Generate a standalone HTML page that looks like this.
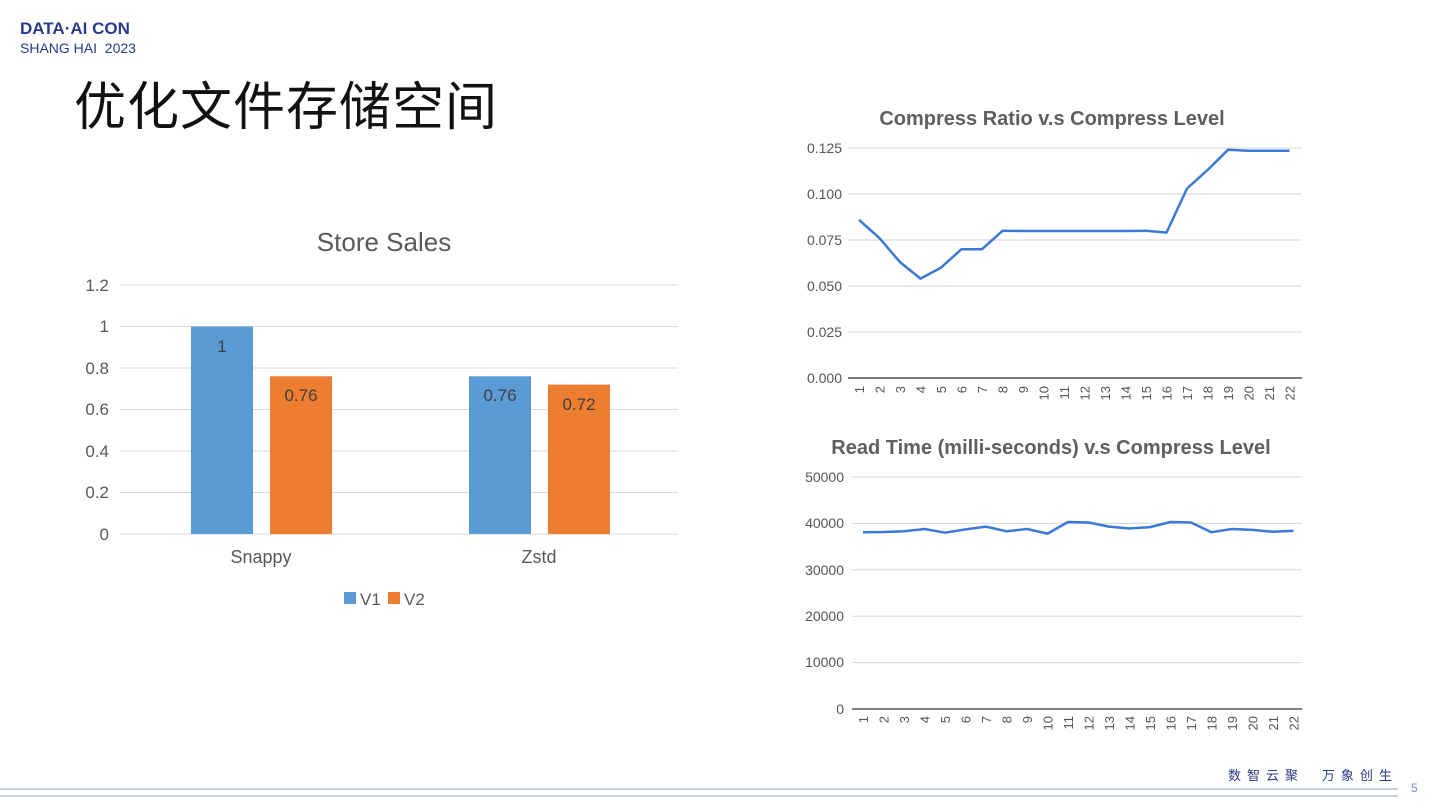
<!DOCTYPE html>
<html><head><meta charset="utf-8"><style>
body{margin:0;width:1440px;height:810px;background:#fff;overflow:hidden;position:relative;font-family:"Liberation Sans","Noto Sans CJK SC",sans-serif}
.abs{position:absolute}
</style></head><body>
<div class="abs" style="left:20px;top:19px;font-size:17px;font-weight:bold;color:#2a3a8c;letter-spacing:0px">DATA·AI CON</div>
<div class="abs" style="left:20px;top:40px;font-size:14px;color:#2a3a8c">SHANG HAI&nbsp; 2023</div>
<div class="abs" style="left:74px;top:70px;font-size:52px;color:#111;font-family:'Noto Sans CJK SC',sans-serif;line-height:66px;letter-spacing:1px">优化文件存储空间</div>
<div class="abs" style="left:1228px;top:765px;font-size:13px;color:#2a3a8c;letter-spacing:6px;font-family:'Noto Sans CJK SC',sans-serif">数智云聚 &nbsp;万象创生</div>
<div class="abs" style="left:1411px;top:781px;font-size:12px;color:#7a8fc0">5</div>
<svg class="abs" style="left:0;top:0" width="1440" height="810">
<line x1="0" y1="789" x2="1398" y2="789" stroke="#8fa3b8" stroke-width="1"/>
<line x1="0" y1="796" x2="1398" y2="796" stroke="#8fa3b8" stroke-width="1"/>
<g font-family="Liberation Sans, sans-serif" fill="#595959">
<text x="384" y="251" font-size="26" text-anchor="middle">Store Sales</text>
<g stroke="#d9d9d9" stroke-width="1">
<line x1="120" y1="285" x2="678" y2="285"/><line x1="120" y1="326.5" x2="678" y2="326.5"/>
<line x1="120" y1="368" x2="678" y2="368"/><line x1="120" y1="409.5" x2="678" y2="409.5"/>
<line x1="120" y1="451" x2="678" y2="451"/><line x1="120" y1="492.5" x2="678" y2="492.5"/>
<line x1="120" y1="534" x2="678" y2="534"/></g>
<g font-size="17" text-anchor="end">
<text x="109" y="291">1.2</text><text x="109" y="332">1</text><text x="109" y="374">0.8</text>
<text x="109" y="415">0.6</text><text x="109" y="457">0.4</text><text x="109" y="498">0.2</text><text x="109" y="540">0</text></g>
<rect x="191" y="326.5" width="62" height="207.5" fill="#5b9bd5"/>
<rect x="270" y="376.3" width="62" height="157.7" fill="#ed7d31"/>
<rect x="469" y="376.3" width="62" height="157.7" fill="#5b9bd5"/>
<rect x="548" y="384.6" width="62" height="149.4" fill="#ed7d31"/>
<g font-size="17" text-anchor="middle" fill="#404040">
<text x="222" y="352">1</text><text x="301" y="401">0.76</text><text x="500" y="401">0.76</text><text x="579" y="410">0.72</text></g>
<g font-size="18" text-anchor="middle"><text x="261" y="563">Snappy</text><text x="539" y="563">Zstd</text></g>
<rect x="344" y="592" width="12" height="12" fill="#5b9bd5"/><text x="360" y="605" font-size="17">V1</text>
<rect x="388" y="592" width="12" height="12" fill="#ed7d31"/><text x="404" y="605" font-size="17">V2</text>
</g>
<g font-family="Liberation Sans, sans-serif">
<text x="1052" y="125" font-size="20" font-weight="bold" fill="#5f5f5f" text-anchor="middle">Compress Ratio v.s Compress Level</text>
<g stroke="#d6d6d6"><line x1="848" y1="148" x2="1302" y2="148"/><line x1="848" y1="194" x2="1302" y2="194"/><line x1="848" y1="240" x2="1302" y2="240"/><line x1="848" y1="286" x2="1302" y2="286"/><line x1="848" y1="332" x2="1302" y2="332"/></g>
<line x1="848" y1="378" x2="1302" y2="378" stroke="#333" stroke-width="1.3"/>
<g font-size="14" fill="#555" text-anchor="end"><text x="842" y="153">0.125</text><text x="842" y="199">0.100</text><text x="842" y="245">0.075</text><text x="842" y="291">0.050</text><text x="842" y="337">0.025</text><text x="842" y="383">0.000</text></g>
<polyline fill="none" stroke="#3c78d8" stroke-width="2.5" stroke-linejoin="round" points="859,219.8 879.5,238.2 900,262.1 920.5,278.6 941,267.6 961.5,249.2 982,249.2 1002.5,230.8 1023,231 1043.5,231 1064,231 1084.5,231 1105,231 1125.5,231 1146,230.8 1166.5,232.6 1187,188.5 1207.5,170.1 1228,149.8 1248.5,150.8 1269,150.8 1289.5,150.8"/>
<text x="1051" y="454" font-size="20" font-weight="bold" fill="#5f5f5f" text-anchor="middle">Read Time (milli-seconds) v.s Compress Level</text>
<g stroke="#d6d6d6"><line x1="852" y1="477" x2="1302" y2="477"/><line x1="852" y1="523.4" x2="1302" y2="523.4"/><line x1="852" y1="569.8" x2="1302" y2="569.8"/><line x1="852" y1="616.2" x2="1302" y2="616.2"/><line x1="852" y1="662.6" x2="1302" y2="662.6"/></g>
<line x1="852" y1="709" x2="1302" y2="709" stroke="#333" stroke-width="1.3"/>
<g font-size="14" fill="#555" text-anchor="end"><text x="844" y="482">50000</text><text x="844" y="528">40000</text><text x="844" y="575">30000</text><text x="844" y="621">20000</text><text x="844" y="667">10000</text><text x="844" y="714">0</text></g>
<polyline fill="none" stroke="#3c78d8" stroke-width="2.5" stroke-linejoin="round" points="863,532.2 883.5,532 904,531.3 924.5,529 945,532.7 965.5,529.4 986,526.6 1006.5,531.3 1027,529 1047.5,533.6 1068,522 1088.5,522.5 1109,526.6 1129.5,528.5 1150,527.1 1170.5,522 1191,522.5 1211.5,532.2 1232,529 1252.5,529.9 1273,531.8 1293.5,530.8"/>
</g>
<g font-family="Liberation Sans, sans-serif" font-size="13" fill="#555" text-anchor="end">
<text transform="translate(864,386) rotate(-90)">1</text><text transform="translate(884.5,386) rotate(-90)">2</text><text transform="translate(905,386) rotate(-90)">3</text><text transform="translate(925.5,386) rotate(-90)">4</text><text transform="translate(946,386) rotate(-90)">5</text><text transform="translate(966.5,386) rotate(-90)">6</text><text transform="translate(987,386) rotate(-90)">7</text><text transform="translate(1007.5,386) rotate(-90)">8</text><text transform="translate(1028,386) rotate(-90)">9</text><text transform="translate(1048.5,386) rotate(-90)">10</text><text transform="translate(1069,386) rotate(-90)">11</text><text transform="translate(1089.5,386) rotate(-90)">12</text><text transform="translate(1110,386) rotate(-90)">13</text><text transform="translate(1130.5,386) rotate(-90)">14</text><text transform="translate(1151,386) rotate(-90)">15</text><text transform="translate(1171.5,386) rotate(-90)">16</text><text transform="translate(1192,386) rotate(-90)">17</text><text transform="translate(1212.5,386) rotate(-90)">18</text><text transform="translate(1233,386) rotate(-90)">19</text><text transform="translate(1253.5,386) rotate(-90)">20</text><text transform="translate(1274,386) rotate(-90)">21</text><text transform="translate(1294.5,386) rotate(-90)">22</text>
<text transform="translate(868,716) rotate(-90)">1</text><text transform="translate(888.5,716) rotate(-90)">2</text><text transform="translate(909,716) rotate(-90)">3</text><text transform="translate(929.5,716) rotate(-90)">4</text><text transform="translate(950,716) rotate(-90)">5</text><text transform="translate(970.5,716) rotate(-90)">6</text><text transform="translate(991,716) rotate(-90)">7</text><text transform="translate(1011.5,716) rotate(-90)">8</text><text transform="translate(1032,716) rotate(-90)">9</text><text transform="translate(1052.5,716) rotate(-90)">10</text><text transform="translate(1073,716) rotate(-90)">11</text><text transform="translate(1093.5,716) rotate(-90)">12</text><text transform="translate(1114,716) rotate(-90)">13</text><text transform="translate(1134.5,716) rotate(-90)">14</text><text transform="translate(1155,716) rotate(-90)">15</text><text transform="translate(1175.5,716) rotate(-90)">16</text><text transform="translate(1196,716) rotate(-90)">17</text><text transform="translate(1216.5,716) rotate(-90)">18</text><text transform="translate(1237,716) rotate(-90)">19</text><text transform="translate(1257.5,716) rotate(-90)">20</text><text transform="translate(1278,716) rotate(-90)">21</text><text transform="translate(1298.5,716) rotate(-90)">22</text>
</g>
</svg>
</body></html>
